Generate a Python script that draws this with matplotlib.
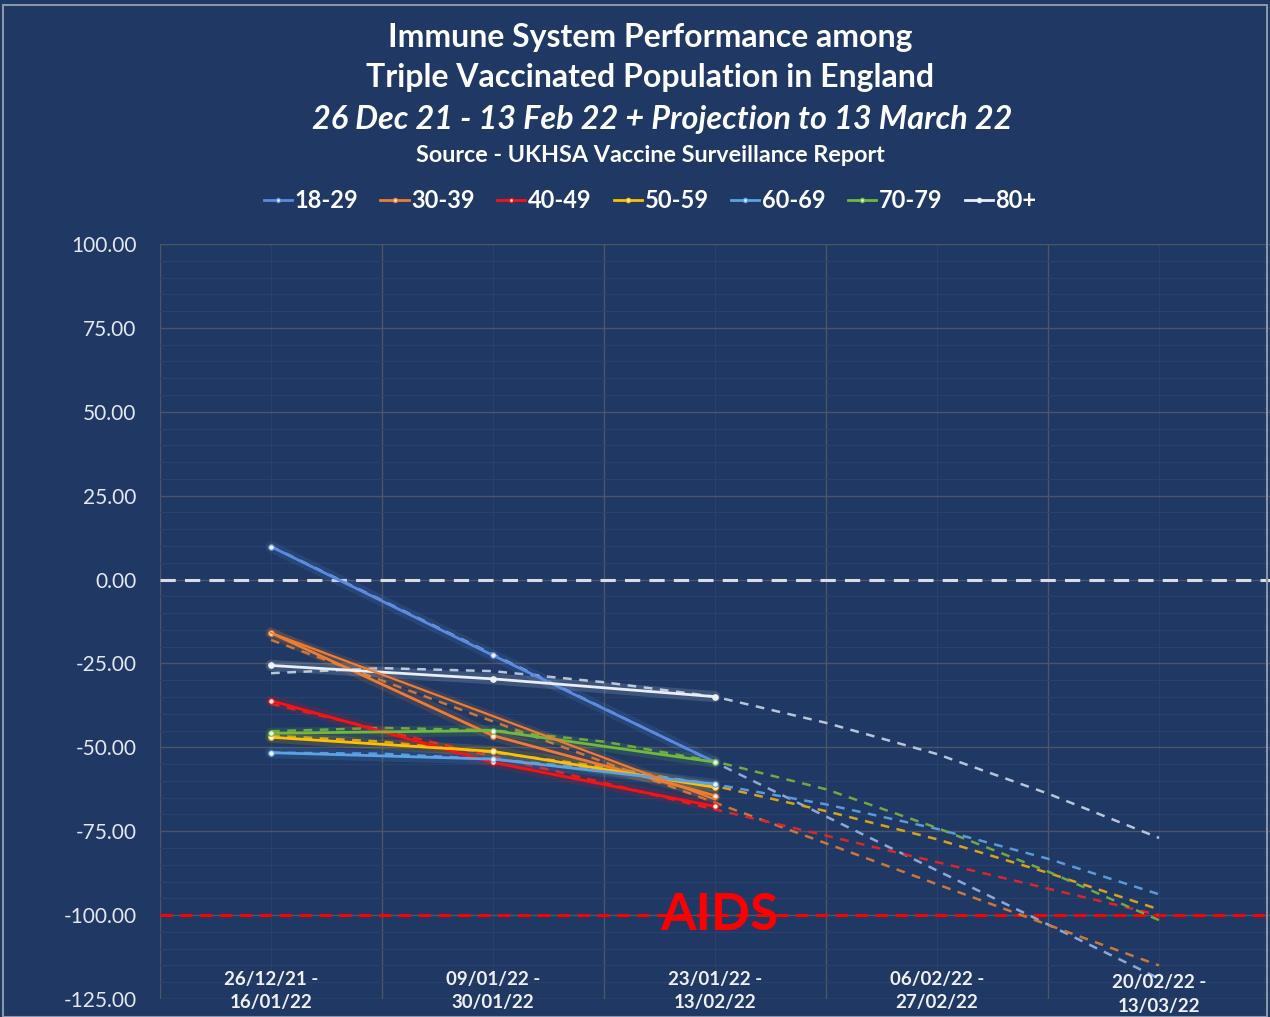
import matplotlib
matplotlib.use("Agg")

import matplotlib.pyplot as plt
from matplotlib.lines import Line2D
from matplotlib.patches import Rectangle

# categories (two-week windows)
periods = [
    "26/12/21 -\n16/01/22",
    "09/01/22 -\n30/01/22",
    "23/01/22 -\n13/02/22",
    "06/02/22 -\n27/02/22",
    "20/02/22 -\n13/03/22",
]
age_groups = ["18-29", "30-39", "40-49", "50-59", "60-69", "70-79", "80+"]

# observed values for the first three windows
obs_18_29 = [9.8, -22.6, -54.4]
obs_30_39 = [-15.9, -46.5, -64.4]
obs_40_49 = [-36.1, -54.5, -67.6]
obs_50_59 = [-47.0, -51.2, -61.9]
obs_60_69 = [-51.6, -53.5, -61.0]
obs_70_79 = [-45.8, -45.0, -54.4]
obs_80_plus = [-25.6, -29.6, -34.9]

# second orange line, drawn straight from first to third window
obs_30_39_b = [-15.9, -65.5]

# trendlines / projection, read at half-window steps
trend_x = [0, 0.5, 1, 1.5, 2, 2.5, 3, 3.5, 4]
tr_18_29 = [9.9, -6.2, -22.3, -38.4, -54.5, -70.6, -86.7, -102.8, -118.9]
tr_30_39 = [-18.0, -30.1, -42.3, -54.4, -66.5, -78.6, -90.8, -102.9, -115.0]
tr_40_49 = [-37.0, -44.9, -52.7, -60.6, -68.5, -76.3, -84.2, -92.1, -100.0]
tr_50_59 = [-46.5, -48.3, -51.5, -55.8, -61.5, -69.0, -77.4, -87.4, -98.3]
tr_60_69 = [-51.6, -51.9, -53.5, -56.6, -61.0, -67.0, -74.3, -83.2, -93.8]
tr_70_79 = [-45.2, -44.2, -44.9, -48.3, -54.2, -62.5, -74.0, -87.0, -101.5]
tr_80_plus = [-27.9, -26.4, -27.3, -30.6, -34.9, -42.7, -52.0, -63.8, -77.0]

observed = [obs_18_29, obs_30_39, obs_40_49, obs_50_59, obs_60_69, obs_70_79, obs_80_plus]
trends = [tr_18_29, tr_30_39, tr_40_49, tr_50_59, tr_60_69, tr_70_79, tr_80_plus]

line_colors = ["#5B8BE0", "#ED7D31", "#FF1010", "#FFC000", "#5BA3E6", "#70B83F", "#E8EEF8"]
trend_colors = ["#8FA6D8", "#C8773E", "#D9262E", "#D6A31A", "#5A9AD8", "#6FA845", "#B8C4DA"]

BG = "#1F3864"
FONT = "Lato"

fig = plt.figure(figsize=(12.7, 10.17), dpi=100, facecolor=BG)
ax = fig.add_axes([160 / 1270, 1 - 999 / 1017, 1110 / 1270, 755 / 1017])
ax.set_facecolor(BG)

# border of the picture
fig.patches.append(Rectangle((0.002, 0.0), 0.996, 0.995, transform=fig.transFigure,
                             fill=False, edgecolor="#8C96A8", lw=1.5))

ax.set_xlim(-0.5, 4.5)
ax.set_ylim(-125, 100)
ax.set_xticks([-0.5, 0.5, 1.5, 2.5, 3.5, 4.5])
ax.set_xticks([0, 1, 2, 3, 4], minor=True)
ax.set_yticks(range(-125, 101, 25))
ax.set_yticks(range(-125, 101, 5), minor=True)
ax.set_xticklabels([])
ax.set_yticklabels(["%.2f" % v for v in range(-125, 101, 25)])
ax.tick_params(axis="both", which="both", length=0)
ax.tick_params(axis="y", pad=17, labelsize=15, labelcolor="#E4E8F0")
for lbl in ax.get_yticklabels():
    lbl.set_fontfamily(FONT)
ax.grid(which="major", color="#4E5566", lw=1.0)
ax.grid(which="minor", color="#2B416B", lw=0.8)
ax.set_axisbelow(True)
for s in ax.spines.values():
    s.set_visible(False)

# reference lines
ax.axhline(0, color="#D8DCE4", lw=2.2, ls=(0, (5, 3)), zorder=2)
ax.axhline(-100, color="#FF0000", lw=2.2, ls=(0, (4, 2.5)), zorder=2)
ax.text(2.02, -100, "AIDS", color="#FF0000", fontsize=37, fontweight="bold",
        family=FONT, ha="center", va="center", zorder=6)

# projections (dashed)
for tr, c in zip(trends, trend_colors):
    ax.plot(trend_x, tr, color=c, lw=1.8, ls=(0, (3.5, 3)), zorder=3)

# observed lines with glow
xs = [0, 1, 2]
for obs, c in zip(observed, line_colors):
    ax.plot(xs, obs, color=c, lw=8, alpha=0.15, solid_capstyle="round", zorder=4)
    ax.plot(xs, obs, color=c, lw=2, marker="o", ms=4, mfc="#F2F2F2", mec=c,
            mew=0.8, zorder=5)
ax.plot([0, 2], obs_30_39_b, color=line_colors[1], lw=6, alpha=0.15, zorder=4)
ax.plot([0, 2], obs_30_39_b, color=line_colors[1], lw=1.6, zorder=5)

# category labels near the bottom
for i, lab in enumerate(periods):
    dy = 0.0 if i < 4 else -0.005
    ax.text(i, 0.011 + dy, lab, transform=ax.get_xaxis_transform(), ha="center",
            va="center", color="#EEF0F4", fontsize=13.5, fontweight="bold",
            family=FONT, linespacing=1.45, zorder=6)

# titles
cx = 650 / 1270
fig.text(cx, 1 - 37 / 1017, "Immune System Performance among", ha="center", va="center",
         color="white", fontsize=23, fontweight="bold", family=FONT)
fig.text(cx, 1 - 78 / 1017, "Triple Vaccinated Population in England", ha="center",
         va="center", color="white", fontsize=23, fontweight="bold", family=FONT)
fig.text(662 / 1270, 1 - 119 / 1017, "26 Dec 21 - 13 Feb 22 + Projection to 13 March 22",
         ha="center", va="center", color="white", fontsize=23.3, fontweight="bold",
         style="italic", family=FONT)
fig.text(cx, 1 - 156 / 1017, "Source - UKHSA Vaccine Surveillance Report", ha="center",
         va="center", color="white", fontsize=16.8, fontweight="bold", family=FONT)

# legend
handles = [Line2D([0], [0], color=c, lw=2, marker="o", ms=3, mfc="#F2F2F2", mec=c)
           for c in line_colors]
fig.legend(handles, age_groups, loc="center", bbox_to_anchor=(cx, 1 - 201 / 1017),
           ncol=7, frameon=False, handlelength=1.2, handletextpad=0.1,
           columnspacing=0.95, prop={"family": FONT, "weight": "bold", "size": 17},
           labelcolor="white")

fig.savefig("out.png", dpi=100, facecolor=BG)
